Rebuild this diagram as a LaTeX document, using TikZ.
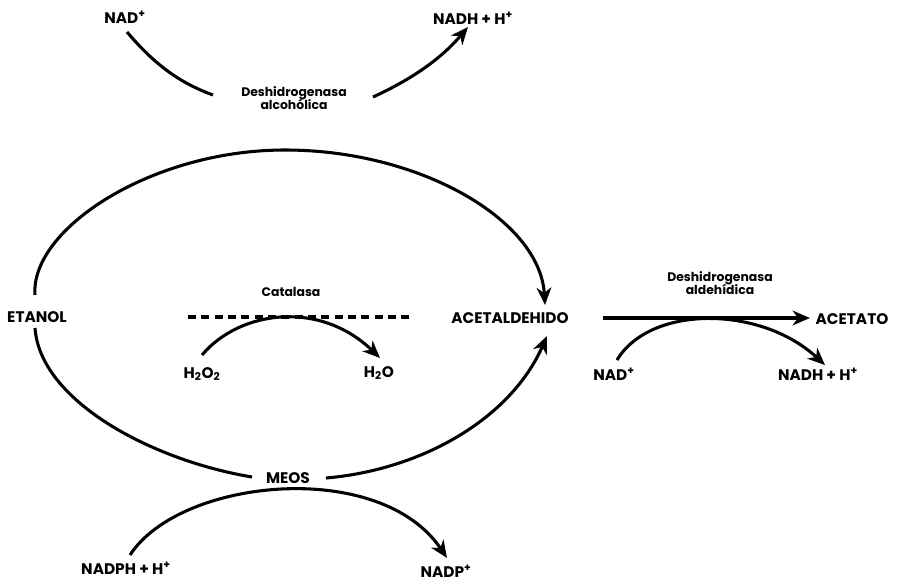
\documentclass[tikz,border=0pt]{standalone}
\usepackage{fontspec}
\setmainfont{Poppins}
\usetikzlibrary{arrows.meta}
\begin{document}
\begin{tikzpicture}[x=0.75pt,y=-0.75pt,
  flow/.style={line width=2.3pt},
  arr/.style={flow,-{Stealth[length=13pt,width=11pt,inset=4pt]}},
  big/.style={font=\fontsize{11.5}{13}\selectfont\bfseries, inner sep=0pt},
  small/.style={font=\fontsize{9.3}{10.5}\selectfont\bfseries, inner sep=0pt, align=center}]
\useasboundingbox (0,0) rectangle (900,583);
% text nodes
\node[big] (nad1) at (125,17) {NAD\textsuperscript{+}};
\node[big] (nadh1) at (473,18) {NADH + H\textsuperscript{+}};
\node[small] (adh) at (294,98) {Deshidrogenasa\\[-1pt]alcohólica};
\node[big] (etanol) at (37,317) {ETANOL};
\node[small] (cat) at (291,292) {Catalasa};
\node[big] (h2o2) at (202,374) {H\textsubscript{2}O\textsubscript{2}};
\node[big] (h2o) at (379,373) {H\textsubscript{2}O};
\node[big] (acetal) at (510,318) {ACETALDEHIDO};
\node[big] (acetato) at (852,319) {ACETATO};
\node[small] (aldh) at (720,283) {Deshidrogenasa\\[-1pt]aldehídica};
\node[big] (nad2) at (614,374) {NAD\textsuperscript{+}};
\node[big] (nadh2) at (818,374) {NADH + H\textsuperscript{+}};
\node[big] (meos) at (288,478) {MEOS};
\node[big] (nadph) at (126,568) {NADPH + H\textsuperscript{+}};
\node[big] (nadp) at (446,571) {NADP\textsuperscript{+}};
% endpoints
\coordinate (a1) at (127,32);
\coordinate (a2) at (213,95);
\coordinate (b1) at (373,97);
\coordinate (b2) at (468,27);
\coordinate (et1) at (35,295);
\coordinate (et2) at (35,328);
\coordinate (top) at (285,150);
\coordinate (ac1) at (545,305);
\coordinate (ac2) at (547,336);
\coordinate (m1) at (252,477);
\coordinate (m2) at (326,478);
\coordinate (d1) at (188,317);
\coordinate (d2) at (410,317);
\coordinate (c1) at (202,355);
\coordinate (c2) at (380,358);
\coordinate (x1) at (603,318);
\coordinate (x2) at (810,318);
\coordinate (n1) at (617,360);
\coordinate (n2) at (825,365);
\coordinate (p1) at (130,555);
\coordinate (p2) at (447,558);
% connectors
\draw[flow] (a1) .. controls (155,65) and (180,83) .. (a2);
\draw[arr] (b1) .. controls (410,80) and (440,60) .. (b2);
\draw[flow] (et1) .. controls (30,230) and (150,150) .. (top);
\draw[arr] (top) .. controls (420,150) and (540,220) .. (ac1);
\draw[flow] (et2) .. controls (40,400) and (150,460) .. (m1);
\draw[arr] (m2) .. controls (420,470) and (510,420) .. (ac2);
\draw[flow, dash pattern=on 6pt off 4pt] (d1) -- (d2);
\draw[arr] (c1) .. controls (240,310) and (320,300) .. (c2);
\draw[arr] (x1) -- (x2);
\draw[arr] (n1) .. controls (650,305) and (760,305) .. (n2);
\draw[arr] (p1) .. controls (180,478) and (380,458) .. (p2);
\end{tikzpicture}
\end{document}
